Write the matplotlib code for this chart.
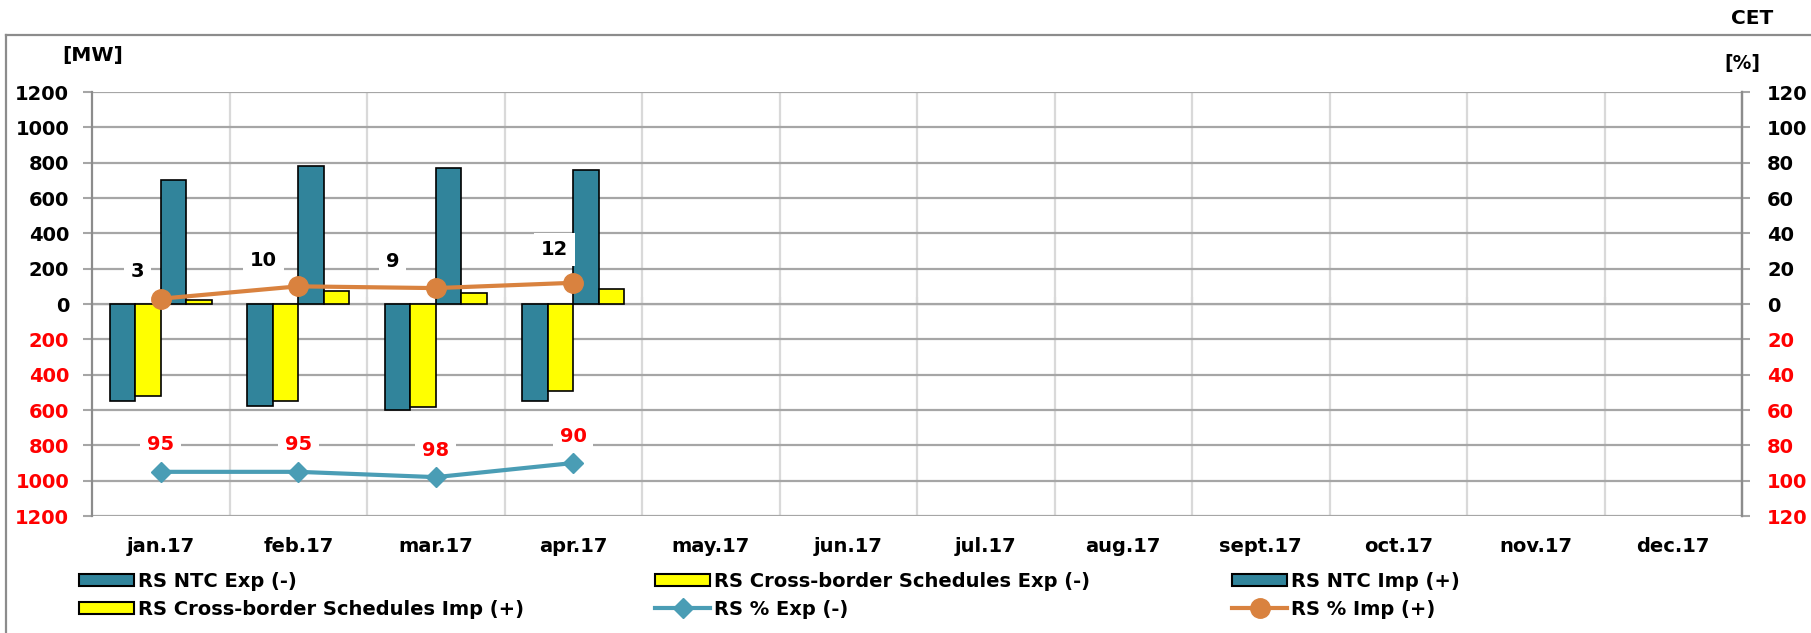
import matplotlib
matplotlib.use("Agg")
import matplotlib.pyplot as plt
from matplotlib.patches import Rectangle
from matplotlib.lines import Line2D
import numpy as np

months = ["jan.17", "feb.17", "mar.17", "apr.17", "may.17", "jun.17",
          "jul.17", "aug.17", "sept.17", "oct.17", "nov.17", "dec.17"]

# MW values (exports negative, imports positive)
ntc_exp = [-550, -580, -600, -550]
cbs_exp = [-520, -550, -585, -495]
ntc_imp = [700, 780, 770, 760]
cbs_imp = [25, 75, 65, 85]

# Utilisation in percent
pct_exp = [95, 95, 98, 90]
pct_imp = [3, 10, 9, 12]

mw_ticks = list(range(-1200, 1201, 200))
pct_ticks = list(range(-120, 121, 20))

TEAL = "#31849B"
YELLOW = "#FFFF00"
LINE_EXP = "#4A9DB5"
LINE_IMP = "#D9823F"
GRID_H = "#A6A6A6"
GRID_V = "#D9D9D9"
AXIS = "#8C8C8C"
RED = "#FF0000"

W, H, DPI = 1811, 633, 100
fig = plt.figure(figsize=(W / DPI, H / DPI), dpi=DPI)

def fx(px):
    return px / W

def fy(py):
    return 1 - py / H

left, right, top, bottom = 92, 1742, 92, 516
ax = fig.add_axes([fx(left), fy(bottom), fx(right - left), (bottom - top) / H])
ax2 = ax.twinx()

FAM = "DejaVu Sans"
tick_font = dict(family=FAM, weight="bold", size=14)

n = len(months)
x = np.arange(n)
bw = 0.185
offs = [-1.5 * bw, -0.5 * bw, 0.5 * bw, 1.5 * bw]
xd = np.arange(len(ntc_exp))
series = [(ntc_exp, TEAL), (cbs_exp, YELLOW), (ntc_imp, TEAL), (cbs_imp, YELLOW)]
for (vals, col), off in zip(series, offs):
    ax.bar(xd + off, vals, width=bw, color=col, edgecolor="black",
           linewidth=1.2, zorder=3)

ax.set_xlim(-0.5, n - 0.5)
ax.set_ylim(-1200, 1200)
ax.set_yticks(mw_ticks)
ax.set_yticklabels([str(abs(t)) for t in mw_ticks], **tick_font)
for t, lab in zip(mw_ticks, ax.get_yticklabels()):
    lab.set_color(RED if t < 0 else "black")
ax.tick_params(axis="y", length=6.5, width=1.5, color=GRID_H, pad=10)

# horizontal and vertical grid
for t in mw_ticks:
    ax.axhline(t, color=GRID_H, lw=1.6, zorder=1)
bounds = np.arange(0.5, n - 0.5, 1.0)
for b in bounds:
    ax.axvline(b, color=GRID_V, lw=1.6, zorder=0.5)

ax.set_xticks(x)
ax.set_xticklabels(months, family=FAM, weight="bold", size=14)
ax.tick_params(axis="x", length=0, pad=15)

# category ticks on the zero line
zero_axis = ax.secondary_xaxis(0.5)
zero_axis.set_xticks(bounds)
zero_axis.set_xticklabels([])
zero_axis.tick_params(axis="x", length=5, width=1.5, color=AXIS, direction="out")
zero_axis.spines["bottom"].set_visible(False)

for s in ["top", "bottom"]:
    ax.spines[s].set_visible(False)
for s in ["left", "right"]:
    ax.spines[s].set_color(AXIS)
    ax.spines[s].set_linewidth(1.6)

# percent axis
ax2.set_ylim(-120, 120)
ax2.set_yticks(pct_ticks)
ax2.set_yticklabels([str(abs(t)) for t in pct_ticks], **tick_font)
for t, lab in zip(pct_ticks, ax2.get_yticklabels()):
    lab.set_color(RED if t < 0 else "black")
ax2.tick_params(axis="y", length=6, width=1.5, color=GRID_H, pad=12)
for s in ["top", "bottom", "left"]:
    ax2.spines[s].set_visible(False)
ax2.spines["right"].set_color(AXIS)
ax2.spines["right"].set_linewidth(1.6)

exp_y = [-v for v in pct_exp]
ax2.plot(xd, exp_y, color=LINE_EXP, lw=3, marker="D", ms=10,
         markeredgecolor=LINE_EXP, zorder=5)
ax2.plot(xd, pct_imp, color=LINE_IMP, lw=3, marker="o", ms=14,
         markeredgecolor=LINE_IMP, zorder=5)

lab_font = dict(family=FAM, weight="bold", size=14)
for xi, v, yv in zip(xd, pct_exp, exp_y):
    ax2.annotate(str(v), (xi, yv), xytext=(0, 27), textcoords="offset pixels",
                 ha="center", va="center", color=RED, **lab_font,
                 bbox=dict(boxstyle="square,pad=0.35", fc="white", ec="none"))
imp_off = [(-23, 27), (-35, 26), (-43, 27), (-19, 33)]
for xi, v, (dx, dy) in zip(xd, pct_imp, imp_off):
    ax2.annotate(str(v), (xi, v), xytext=(dx, dy), textcoords="offset pixels",
                 ha="center", va="center", color="black", **lab_font,
                 bbox=dict(boxstyle="square,pad=0.35", fc="white", ec="none"))

# unit captions and zone label
fig.text(fx(93), fy(56), "[MW]", ha="center", va="center",
         family=FAM, weight="bold", size=14.5)
fig.text(fx(1742), fy(64), "[%]", ha="center", va="center",
         family=FAM, weight="bold", size=13.5)
fig.text(fx(1752), fy(19), "CET", ha="center", va="center",
         family=FAM, weight="bold", size=14.5)

# outer frame
fig.add_artist(Line2D([fx(6), 1.0], [fy(35), fy(35)], color=AXIS, lw=1.6))
fig.add_artist(Line2D([fx(6), fx(6)], [fy(35), 0.0], color=AXIS, lw=1.6))

# legend, three columns of two entries
def patch(col):
    return Rectangle((0, 0), 1, 1, facecolor=col, edgecolor="black", linewidth=1.5)

h_ntc_exp = patch(TEAL)
h_cbs_exp = patch(YELLOW)
h_ntc_imp = patch(TEAL)
h_cbs_imp = patch(YELLOW)
h_pct_exp = Line2D([], [], color=LINE_EXP, lw=3, marker="D", ms=10)
h_pct_imp = Line2D([], [], color=LINE_IMP, lw=3, marker="o", ms=14)

columns = [
    (79, [h_ntc_exp, h_cbs_imp], ["RS NTC Exp (-)", "RS Cross-border Schedules Imp (+)"]),
    (655, [h_cbs_exp, h_pct_exp], ["RS Cross-border Schedules Exp (-)", "RS % Exp (-)"]),
    (1232, [h_ntc_imp, h_pct_imp], ["RS NTC Imp (+)", "RS % Imp (+)"]),
]
for xpos, hs, ls in columns:
    fig.legend(hs, ls, loc="upper left", bbox_to_anchor=(fx(xpos), fy(572)),
               frameon=False, borderpad=0, borderaxespad=0,
               handlelength=2.85, handleheight=0.62, handletextpad=0.18,
               labelspacing=0.45,
               prop=dict(family=FAM, weight="bold", size=14))

fig.savefig("out.png", dpi=DPI)
